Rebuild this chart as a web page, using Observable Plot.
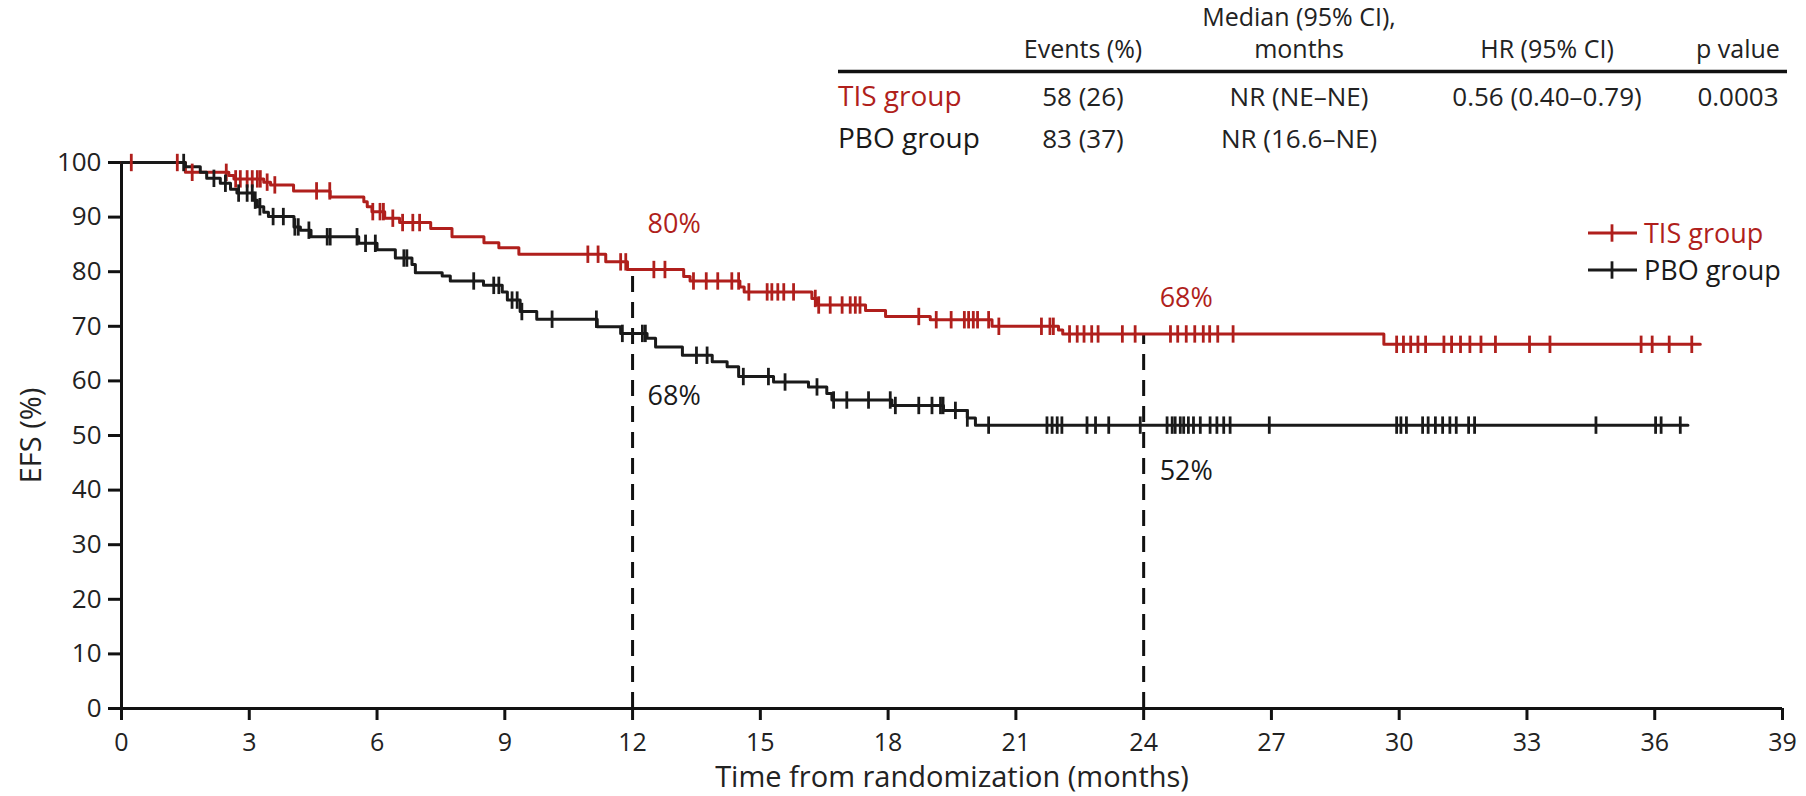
<!DOCTYPE html>
<html><head><meta charset="utf-8">
<script src="https://cdn.jsdelivr.net/npm/d3@7"></script>
<script src="https://cdn.jsdelivr.net/npm/@observablehq/plot@0.6"></script>
<style>
body{margin:0;background:#fff;}
#chart{width:1806px;height:796px;}
#chart svg{font-family:"Open Sans",sans-serif;}
g[aria-label="x-axis label"] text, g[aria-label="y-axis label"] text{font-size:29px;}
g[aria-label="y-axis tick label"] text{font-size:26px;}
</style></head><body><div id="chart"></div>
<script>
// ---------- data ----------
const groups = ["TIS group", "PBO group"];
const groupColors = ["#b01f1c", "#1a1a1a"];

const tisStepTime = [0, 1.50, 2.52, 2.64, 3.34, 3.50, 4.04, 4.90, 5.69, 5.77, 5.88, 6.18, 6.53, 7.26, 7.76, 8.51, 8.86, 9.33, 11.37, 11.88, 13.20, 13.35, 14.52, 14.62, 16.21, 16.33, 17.47, 17.94, 18.99, 20.44, 22.00, 22.10, 29.64, 37.07];
const tisStepSurv = [100, 98.2, 97.6, 97.0, 96.4, 95.9, 94.8, 93.7, 92.8, 91.9, 91.0, 89.8, 89.0, 87.9, 86.4, 85.3, 84.4, 83.2, 81.8, 80.4, 79.1, 78.3, 77.2, 76.3, 75.1, 73.9, 72.9, 71.8, 71.2, 70.0, 69.3, 68.6, 66.7, 66.7];
const tisCensorTime = [0.23, 1.31, 1.66, 2.46, 2.68, 2.79, 2.95, 3.07, 3.19, 3.26, 3.42, 3.60, 4.58, 4.89, 5.90, 6.07, 6.15, 6.37, 6.60, 6.84, 7.00, 10.95, 11.19, 11.72, 11.84, 12.50, 12.76, 13.43, 13.73, 14.00, 14.33, 14.49, 14.73, 15.16, 15.27, 15.41, 15.55, 15.78, 16.29, 16.37, 16.64, 16.92, 17.11, 17.23, 17.34, 18.72, 19.13, 19.48, 19.79, 19.89, 20.00, 20.10, 20.36, 20.60, 21.60, 21.80, 21.88, 22.26, 22.44, 22.60, 22.78, 22.93, 23.50, 23.80, 24.63, 24.80, 25.00, 25.20, 25.40, 25.55, 25.74, 26.10, 29.94, 30.10, 30.27, 30.44, 30.62, 31.05, 31.23, 31.44, 31.66, 31.92, 32.26, 33.06, 33.54, 35.68, 35.94, 36.34, 36.87];

const pboStepTime = [0, 1.50, 1.85, 2.00, 2.32, 2.56, 2.71, 3.11, 3.19, 3.34, 3.45, 4.05, 4.20, 4.45, 5.57, 6.00, 6.43, 6.82, 6.90, 7.53, 7.72, 8.50, 8.94, 9.06, 9.36, 9.75, 11.17, 11.72, 12.34, 12.54, 13.17, 13.87, 14.22, 14.49, 15.31, 16.13, 16.56, 16.68, 18.09, 19.30, 19.86, 20.05, 36.78];
const pboStepSurv = [100, 99.2, 98.2, 97.1, 96.2, 95.1, 94.4, 93.1, 91.9, 90.9, 90.1, 88.2, 87.6, 86.4, 85.2, 84.0, 82.5, 81.3, 79.8, 79.2, 78.3, 77.5, 76.3, 74.8, 72.7, 71.3, 69.9, 68.7, 67.8, 66.2, 64.7, 63.5, 62.6, 60.8, 59.8, 58.9, 57.7, 56.5, 55.5, 54.6, 53.2, 51.9, 51.9];
const pboCensorTime = [1.46, 2.17, 2.44, 2.75, 2.95, 3.07, 3.14, 3.25, 3.56, 3.80, 4.07, 4.15, 4.40, 4.83, 4.90, 5.53, 5.73, 5.96, 6.63, 6.70, 8.27, 8.74, 8.86, 9.17, 9.29, 9.40, 10.11, 11.15, 11.76, 12.23, 12.30, 13.50, 13.75, 14.60, 15.19, 15.58, 16.33, 16.72, 17.03, 17.54, 18.05, 18.17, 18.72, 19.03, 19.23, 19.29, 19.58, 19.86, 20.36, 21.73, 21.85, 21.97, 22.08, 22.67, 22.87, 23.18, 23.92, 24.55, 24.67, 24.74, 24.86, 24.94, 25.05, 25.17, 25.33, 25.56, 25.72, 25.88, 26.03, 26.95, 29.94, 30.04, 30.17, 30.55, 30.68, 30.85, 31.02, 31.19, 31.34, 31.63, 31.77, 34.62, 36.02, 36.15, 36.60];

const xTicks = [0, 3, 6, 9, 12, 15, 18, 21, 24, 27, 30, 33, 36, 39];
const yTicks = [0, 10, 20, 30, 40, 50, 60, 70, 80, 90, 100];
const landmarkTimes = [12, 24];
const landmarkTisLabels = ["80%", "68%"];
const landmarkPboLabels = ["68%", "52%"];

const tableHeaders = [["Events (%)"], ["Median (95% CI),", "months"], ["HR (95% CI)"], ["p value"]];
const tisRow = ["58 (26)", "NR (NE–NE)", "0.56 (0.40–0.79)", "0.0003"];
const pboRow = ["83 (37)", "NR (16.6–NE)", "", ""];

const xLabel = "Time from randomization (months)";
const yLabel = "EFS (%)";

// ---------- helpers ----------
function survAt(times, surv, t) {
  let s = surv[0];
  for (let i = 0; i < times.length; i++) if (times[i] <= t) s = surv[i];
  return s;
}
const curves = [
  {g: groups[0], times: tisStepTime, surv: tisStepSurv, cens: tisCensorTime},
  {g: groups[1], times: pboStepTime, surv: pboStepSurv, cens: pboCensorTime}
];
const stepData = curves.flatMap(c => c.times.map((t, i) => ({t, s: c.surv[i], g: c.g})));
const censorData = curves.flatMap(c => c.cens.map(t => ({t, s: survAt(c.times, c.surv, t), g: c.g})));
const landmarkData = landmarkTimes.map(t => ({t, top: survAt(tisStepTime, tisStepSurv, t)}));

const vbar = {draw(ctx, size) { const h = Math.sqrt(size / Math.PI); ctx.moveTo(0, -h); ctx.lineTo(0, h); }};

const annoMarks = [];
const tisDy = [-45, -36], pboDy = [63, 46], annoDx = [15, 16];
landmarkTimes.forEach((t, i) => {
  annoMarks.push(Plot.text([{t, s: survAt(tisStepTime, tisStepSurv, t), label: landmarkTisLabels[i]}],
    {x: "t", y: "s", text: "label", dx: annoDx[i], dy: tisDy[i], textAnchor: "start", fill: groupColors[0], fontSize: 27}));
  annoMarks.push(Plot.text([{t, s: survAt(pboStepTime, pboStepSurv, t), label: landmarkPboLabels[i]}],
    {x: "t", y: "s", text: "label", dx: annoDx[i], dy: pboDy[i], textAnchor: "start", fill: groupColors[1], fontSize: 27}));
});

const chart = Plot.plot({
  width: 1806, height: 796,
  marginLeft: 121, marginRight: 24, marginTop: 162, marginBottom: 88,
  style: {fontFamily: "Open Sans, sans-serif", fontSize: "25px", color: "#222", background: "#fff", overflow: "visible"},
  x: {domain: [0, 39]},
  y: {domain: [0, 100]},
  color: {domain: groups, range: groupColors},
  marks: [
    Plot.axisX({ticks: xTicks, tickSize: 12, tickPadding: 13, strokeWidth: 3, stroke: "#111", fill: "#222",
      label: xLabel, labelAnchor: "center", labelArrow: "none", labelOffset: 78}),
    Plot.axisY({ticks: yTicks, tickSize: 13, tickPadding: 7, strokeWidth: 3, stroke: "#111", fill: "#222",
      label: yLabel, labelAnchor: "center", labelArrow: "none", labelOffset: 101}),
    Plot.ruleX(landmarkData, {x: "t", y1: 0, y2: "top", stroke: "#111", strokeWidth: 3, strokeDasharray: "16,10"}),
    Plot.ruleY([0], {stroke: "#111", strokeWidth: 3}),
    Plot.ruleX([0], {stroke: "#111", strokeWidth: 3}),
    Plot.line(stepData, {x: "t", y: "s", z: "g", stroke: "g", curve: "step-after", strokeWidth: 3}),
    Plot.dot(censorData, {x: "t", y: "s", stroke: "g", symbol: vbar, r: 8.7, strokeWidth: 2.8, fill: "none"}),
    ...annoMarks
  ]
});
document.getElementById("chart").appendChild(chart);

// ---------- table & legend (layout text) ----------
const svg = d3.select(chart);
const colX = [1083, 1299, 1547, 1738];
const labelX = 838;
const tbl = svg.append("g").attr("font-family", "Open Sans, sans-serif").attr("fill", "#222");
tableHeaders.forEach((lines, i) => {
  lines.forEach((line, j) => {
    const baseline = lines.length === 2 ? (j === 0 ? 26 : 58) : 58;
    tbl.append("text").attr("x", colX[i]).attr("y", baseline).attr("text-anchor", "middle").attr("font-size", 25).text(line);
  });
});
tbl.append("line").attr("x1", labelX).attr("x2", 1787).attr("y1", 71.5).attr("y2", 71.5).attr("stroke", "#111").attr("stroke-width", 3.5);
[[tisRow, 106, groupColors[0], groups[0]], [pboRow, 148, groupColors[1], groups[1]]].forEach(([row, y, col, name]) => {
  tbl.append("text").attr("x", labelX).attr("y", y).attr("text-anchor", "start").attr("font-size", 28).attr("fill", col).text(name);
  row.forEach((v, i) => {
    if (v) tbl.append("text").attr("x", colX[i]).attr("y", y).attr("text-anchor", "middle").attr("font-size", 26).text(v);
  });
});
const leg = svg.append("g").attr("font-family", "Open Sans, sans-serif");
[[233, 243], [270, 280]].forEach(([ly, by], i) => {
  leg.append("line").attr("x1", 1588).attr("x2", 1637).attr("y1", ly).attr("y2", ly).attr("stroke", groupColors[i]).attr("stroke-width", 3);
  leg.append("line").attr("x1", 1612).attr("x2", 1612).attr("y1", ly - 8.7).attr("y2", ly + 8.7).attr("stroke", groupColors[i]).attr("stroke-width", 2.8);
  leg.append("text").attr("x", 1644).attr("y", by).attr("text-anchor", "start").attr("font-size", 27).attr("fill", groupColors[i]).text(groups[i]);
});
</script></body></html>
